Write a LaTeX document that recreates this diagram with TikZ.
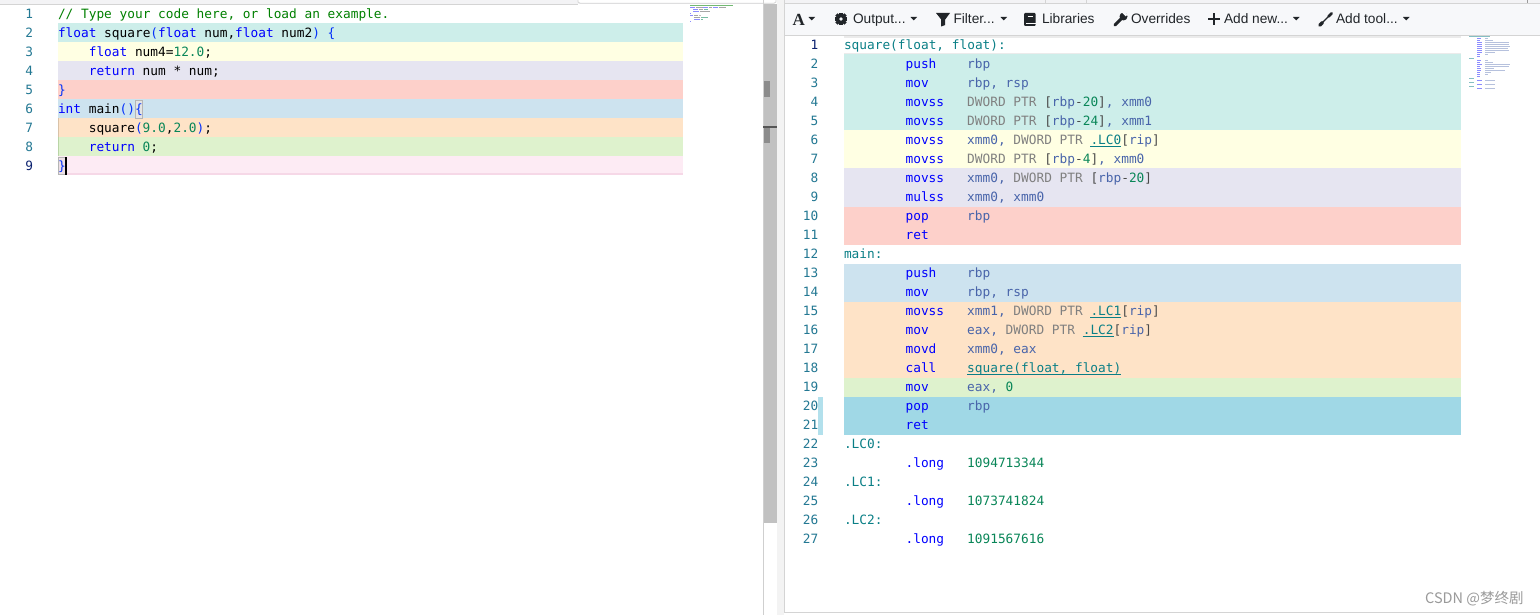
\documentclass[tikz,border=0pt]{standalone}
\usepackage{fontspec}
\setmainfont{Liberation Sans}
\newfontfamily\codefont{DejaVu Sans Mono}
\newfontfamily\iconserif{Liberation Serif}
\newfontfamily\cjkfont{Noto Sans CJK SC}
\definecolor{cTeal}{HTML}{CDEEEA}
\definecolor{cYel}{HTML}{FFFFE3}
\definecolor{cLav}{HTML}{E6E5F1}
\definecolor{cSal}{HTML}{FDD0CA}
\definecolor{cBlu}{HTML}{CDE3EF}
\definecolor{cPea}{HTML}{FEE3C7}
\definecolor{cGrn}{HTML}{DEF2CD}
\definecolor{cPnk}{HTML}{FDEBF4}
\definecolor{cPnkD}{HTML}{F6D8E7}
\definecolor{cDBl}{HTML}{A0D8E6}
\definecolor{kwcol}{HTML}{0000FF}
\definecolor{brcol}{HTML}{0431FA}
\definecolor{cmtcol}{HTML}{008000}
\definecolor{numcol}{HTML}{098658}
\definecolor{lnumcol}{HTML}{237893}
\definecolor{lnumAcol}{HTML}{0B216F}
\definecolor{lblcol}{HTML}{0A7F86}
\definecolor{regcol}{HTML}{4864AA}
\definecolor{ptrcol}{HTML}{808080}
\definecolor{dkcol}{HTML}{4A4A4A}
\definecolor{tbcol}{HTML}{212529}
\definecolor{tbbgcol}{HTML}{F7F8FA}
\definecolor{bordcol}{HTML}{D4D4D4}
\definecolor{scrcol}{HTML}{C1C1C1}
\definecolor{wmcol}{HTML}{9A9A9A}
\definecolor{topgraycol}{HTML}{F3F3F5}
\definecolor{scrmarkcol}{HTML}{8C8C8C}
\definecolor{marklinecol}{HTML}{555555}
\definecolor{scrlinecol}{HTML}{CFCFCF}
\definecolor{splitcol}{HTML}{F3F3F3}
\definecolor{guideAcol}{HTML}{D9C2A8}
\definecolor{guideBcol}{HTML}{B9D4A6}
\definecolor{boxbcol}{HTML}{B5B5B5}
\definecolor{boxfcol}{HTML}{E4E4E4}
\definecolor{boxfBcol}{HTML}{EDE0E6}
\definecolor{curlcol}{HTML}{EBEBEB}
\definecolor{stripcol}{HTML}{B2E0EC}
\newcommand\cKw[1]{\textcolor{kwcol}{#1}}
\newcommand\cBr[1]{\textcolor{brcol}{#1}}
\newcommand\cNm[1]{\textcolor{numcol}{#1}}
\newcommand\cPt[1]{\textcolor{ptrcol}{#1}}
\newcommand\cDk[1]{\textcolor{dkcol}{#1}}
\newcommand\cLb[1]{\textcolor{lblcol}{#1}}
\tikzset{
  codetx/.style={inner sep=0pt, outer sep=0pt, anchor=base west, font=\codefont\fontsize{12.8}{15}\selectfont},
  tbtext/.style={inner sep=0pt, outer sep=0pt, anchor=base west, text=tbcol, font=\fontsize{13.7}{16}\selectfont},
}
\newcommand\lband[2]{\fill[#2] (58,{4.5+19*(#1-1)}) rectangle (683,{23.5+19*(#1-1)});}
\newcommand\rband[3]{\fill[#3] (844,{35.5+19*(#1-1)}) rectangle (1461,{54.5+19*(#2-1)});}
\newcommand\lcode[3]{\node[codetx] at ({58+#2*7.7},{18.5+19*(#1-1)}) {#3};}
\newcommand\asmI[3]{%
  \node[codetx,text=kwcol] at ({844+8*7.7},{49.5+19*(#1-1)}) {#2};
  \node[codetx,text=regcol] at ({844+16*7.7},{49.5+19*(#1-1)}) {#3};}
\newcommand\asmL[2]{\node[codetx,text=lblcol] at (844,{49.5+19*(#1-1)}) {#2};}
\newcommand\uline[3]{\draw[lblcol,line width=0.9pt] ({844+#2*7.7},{51.5+19*(#1-1)}) -- ({844+#3*7.7},{51.5+19*(#1-1)});}
\newcommand\ddtri[1]{\fill[tbcol] (#1,17) -- ({#1+6.5},17) -- ({#1+3.25},20.5) -- cycle;}

\begin{document}
\begin{tikzpicture}[x=1pt,y=-1pt]
\useasboundingbox (0,0) rectangle (1540,615);
\fill[white] (0,0) rectangle (1540,615);

% ---------------- left panel frame ----------------
\fill[topgraycol] (0,0) rectangle (763,4);
\draw[bordcol,line width=0.8pt] (0,4.2) -- (578,4.2);
\fill[white] (578,0) rectangle (776,3);
\draw[bordcol,line width=0.8pt] (578,0) -- (578,2) -- (580,3.2) -- (774,3.2) -- (776,2) -- (776,0);

% scrollbar
\fill[scrcol] (763,4) rectangle (777,523);
\draw[scrlinecol,line width=0.8pt] (763,0) -- (763,615);
\draw[scrlinecol,line width=0.8pt] (777,0) -- (777,615);
\fill[scrmarkcol] (764,81) rectangle (769.5,97);
\fill[scrmarkcol] (764,127) rectangle (769.5,143);
\draw[marklinecol,line width=1.2pt] (763,127) -- (777,127);
% splitter
\fill[splitcol] (777.4,0) rectangle (783.6,615);

% left highlight bands
\lband{2}{cTeal}
\lband{3}{cYel}
\lband{4}{cLav}
\lband{5}{cSal}
\lband{6}{cBlu}
\lband{7}{cPea}
\lband{8}{cGrn}
\lband{9}{cPnk}
\fill[cPnkD] (58,173.3) rectangle (683,175);
\draw[guideAcol,line width=0.8pt] (58.4,118.5) -- (58.4,137.5);
\draw[guideBcol,line width=0.8pt] (58.4,137.5) -- (58.4,156.5);

% bracket-match boxes and cursor
\draw[boxbcol,fill=boxfcol,line width=0.8pt] (135,100.5) rectangle (142.7,118);
\draw[boxbcol,fill=boxfBcol,line width=0.8pt] (58,157.5) rectangle (65.7,174.5);

% left line numbers
\foreach \k in {1,...,8}{
  \node[codetx,text=lnumcol,anchor=base east] at (33,{18.5+19*(\k-1)}) {\k};
}
\node[codetx,text=lnumAcol,anchor=base east] at (33,{18.5+19*8}) {9};

% left code
\lcode{1}{0}{\textcolor{cmtcol}{// Type your code here, or load an example.}}
\lcode{2}{0}{\cKw{float} square\cBr{(}\cKw{float} num,\cKw{float} num2\cBr{)} \cBr{\{}}
\lcode{3}{4}{\cKw{float} num4=\cNm{12.0};}
\lcode{4}{4}{\cKw{return} num * num;}
\lcode{5}{0}{\cBr{\}}}
\lcode{6}{0}{\cKw{int} main\cBr{()}\cBr{\{}}
\lcode{7}{4}{square\cBr{(}\cNm{9.0},\cNm{2.0}\cBr{)};}
\lcode{8}{4}{\cKw{return} \cNm{0};}
\lcode{9}{0}{\cBr{\}}}
\fill[black] (65,157.5) rectangle (67.2,175);

% left minimap
\begin{scope}[line width=1.3pt]
\draw[cmtcol!55] (690,5.7) -- (733,5.7);
\draw[kwcol!45] (690,7.7) -- (695,7.7); \draw[black!35] (696,7.7) -- (703,7.7);
\draw[kwcol!45] (703,7.7) -- (708,7.7); \draw[black!35] (709,7.7) -- (712,7.7);
\draw[kwcol!45] (713,7.7) -- (718,7.7); \draw[black!35] (719,7.7) -- (726,7.7);
\draw[kwcol!45] (693,9.7) -- (698,9.7); \draw[black!35] (699,9.7) -- (703,9.7); \draw[numcol!55] (704,9.7) -- (708,9.7);
\draw[kwcol!45] (693,11.7) -- (699,11.7); \draw[black!35] (700,11.7) -- (710,11.7);
\draw[kwcol!45] (690,13.7) -- (691,13.7);
\draw[kwcol!45] (690,15.7) -- (693,15.7); \draw[black!35] (694,15.7) -- (698,15.7); \draw[black!25] (699,15.7) -- (701,15.7);
\draw[black!35] (694,17.7) -- (700,17.7); \draw[numcol!55] (701,17.7) -- (708,17.7);
\draw[kwcol!45] (694,19.7) -- (700,19.7); \draw[numcol!55] (701,19.7) -- (703,19.7);
\draw[kwcol!45] (690,21.7) -- (691,21.7);
\end{scope}

% ---------------- right panel ----------------
\fill[topgraycol] (784,0) rectangle (1540,3.5);
\draw[bordcol,line width=0.8pt] (1045,0) -- (1045,3.5);
\draw[bordcol,line width=0.8pt] (1086,0) -- (1086,3.5);
\draw[wmcol,line width=0.8pt] (1527,0) -- (1527,3.5);
\fill[tbbgcol] (784,4) rectangle (1540,35);
\draw[bordcol,line width=0.8pt] (784,3.8) -- (1540,3.8);
\draw[bordcol,line width=1pt] (784,35.3) -- (1540,35.3);
\draw[bordcol,line width=1pt] (784,0) -- (784,613);
\draw[bordcol,line width=1pt] (784,612.8) -- (1540,612.8);

% toolbar
\node[inner sep=0pt,anchor=base west,text=tbcol,font=\iconserif\bfseries\fontsize{17}{18}\selectfont] at (792.5,25.5) {A};
\ddtri{808.5}
% gear
\fill[tbcol] (841,19) circle (4.8);
\foreach \a in {0,45,...,315}{
  \fill[tbcol,rotate around={\a:(841,19)}] (839.4,12.6) rectangle (842.6,15);
}
\fill[tbbgcol] (841,19) circle (1.9);
\node[tbtext] at (853,24) {Output...};
\ddtri{910.5}
% funnel
\fill[tbcol] (936,13) -- (950,13) -- (945.2,19.5) -- (945.2,25) -- (941.2,26.5) -- (941.2,19.5) -- cycle;
\node[tbtext] at (953.5,24) {Filter...};
\ddtri{1000.5}
% book
\fill[tbcol,rounded corners=1pt] (1024,13) rectangle (1035.5,26);
\draw[white,line width=0.9pt] (1026,23.3) -- (1035.5,23.3);
\draw[white,line width=0.8pt] (1027.5,16) -- (1032.5,16);
\node[tbtext] at (1042,24) {Libraries};
% wrench
\draw[tbcol,line width=3pt,line cap=round] (1115,25) -- (1122,18);
\fill[tbcol] (1123.5,16.5) circle (4);
\fill[tbbgcol,rotate around={45:(1125.5,14.5)}] (1124.3,10.5) rectangle (1126.7,16);
\node[tbtext] at (1131,24) {Overrides};
% plus
\draw[tbcol,line width=2pt] (1208,19) -- (1219.5,19);
\draw[tbcol,line width=2pt] (1213.75,13.3) -- (1213.75,24.8);
\node[tbtext] at (1224,24) {Add new...};
\ddtri{1293}
% brush
\draw[tbcol,line width=3.2pt,line cap=round] (1319.8,25.2) -- (1322.5,22.5);
\draw[tbcol,line width=1.3pt] (1322.5,22.5) -- (1328.5,16.5);
\draw[tbcol,line width=2.6pt,line cap=round] (1328.5,16.5) -- (1331.8,13.2);
\node[tbtext] at (1336,24) {Add tool...};
\ddtri{1403}

% right highlight bands
\draw[curlcol,line width=1.8pt] (844,37.2) -- (1461,37.2);
\draw[curlcol,line width=1.6pt] (844,53.8) -- (1461,53.8);
\rband{2}{5}{cTeal}
\rband{6}{7}{cYel}
\rband{8}{9}{cLav}
\rband{10}{11}{cSal}
\rband{13}{14}{cBlu}
\rband{15}{18}{cPea}
\rband{19}{19}{cGrn}
\rband{20}{21}{cDBl}
\fill[stripcol] (818.3,397) rectangle (822.7,434.5);

% right line numbers
\node[codetx,text=lnumAcol,anchor=base east] at (818.3,49.5) {1};
\foreach \k in {2,...,27}{
  \node[codetx,text=lnumcol,anchor=base east] at (818.3,{49.5+19*(\k-1)}) {\k};
}

% asm
\asmL{1}{square(float, float):}
\asmI{2}{push}{rbp}
\asmI{3}{mov}{rbp, rsp}
\asmI{4}{movss}{\cPt{DWORD PTR} \cDk{[}rbp\cDk{-}\cNm{20}\cDk{]}, xmm0}
\asmI{5}{movss}{\cPt{DWORD PTR} \cDk{[}rbp\cDk{-}\cNm{24}\cDk{]}, xmm1}
\asmI{6}{movss}{xmm0, \cPt{DWORD PTR} \cLb{.LC0}\cDk{[}rip\cDk{]}}
\asmI{7}{movss}{\cPt{DWORD PTR} \cDk{[}rbp\cDk{-}\cNm{4}\cDk{]}, xmm0}
\asmI{8}{movss}{xmm0, \cPt{DWORD PTR} \cDk{[}rbp\cDk{-}\cNm{20}\cDk{]}}
\asmI{9}{mulss}{xmm0, xmm0}
\asmI{10}{pop}{rbp}
\asmI{11}{ret}{}
\asmL{12}{main:}
\asmI{13}{push}{rbp}
\asmI{14}{mov}{rbp, rsp}
\asmI{15}{movss}{xmm1, \cPt{DWORD PTR} \cLb{.LC1}\cDk{[}rip\cDk{]}}
\asmI{16}{mov}{eax, \cPt{DWORD PTR} \cLb{.LC2}\cDk{[}rip\cDk{]}}
\asmI{17}{movd}{xmm0, eax}
\asmI{18}{call}{\cLb{square(float, float)}}
\asmI{19}{mov}{eax, \cNm{0}}
\asmI{20}{pop}{rbp}
\asmI{21}{ret}{}
\asmL{22}{.LC0:}
\asmI{23}{.long}{\cNm{1094713344}}
\asmL{24}{.LC1:}
\asmI{25}{.long}{\cNm{1073741824}}
\asmL{26}{.LC2:}
\asmI{27}{.long}{\cNm{1091567616}}
\uline{6}{32}{36}
\uline{15}{32}{36}
\uline{16}{31}{35}
\uline{18}{16}{36}

% right minimap
\begin{scope}[line width=1.3pt]
\foreach \k/\m/\o in {2/4/3,3/3/8,4/5/24,5/5/24,6/5/25,7/5/23,8/5/24,9/5/10,10/3/3,11/3/0,13/4/3,14/3/8,15/5/25,16/3/24,17/4/9,18/4/20,19/3/6,20/3/3,21/3/0,23/5/10,25/5/10,27/5/10}{
  \draw[kwcol!45] (1477,{36.7+2*(\k-1)}) -- ({1477+\m},{36.7+2*(\k-1)});
  \ifnum\o>0 \draw[regcol!40] (1485,{36.7+2*(\k-1)}) -- ({1485+\o},{36.7+2*(\k-1)}); \fi
}
\foreach \k/\l in {1/21,12/5,22/5,24/5,26/5}{
  \draw[lblcol!50] (1469,{36.7+2*(\k-1)}) -- ({1469+\l},{36.7+2*(\k-1)});
}
\end{scope}

% watermark
\node[inner sep=0pt,anchor=base west,text=wmcol,font=\cjkfont\fontsize{14.5}{16}\selectfont] at (1425,603.5) {CSDN @梦终剧};
\end{tikzpicture}
\end{document}
